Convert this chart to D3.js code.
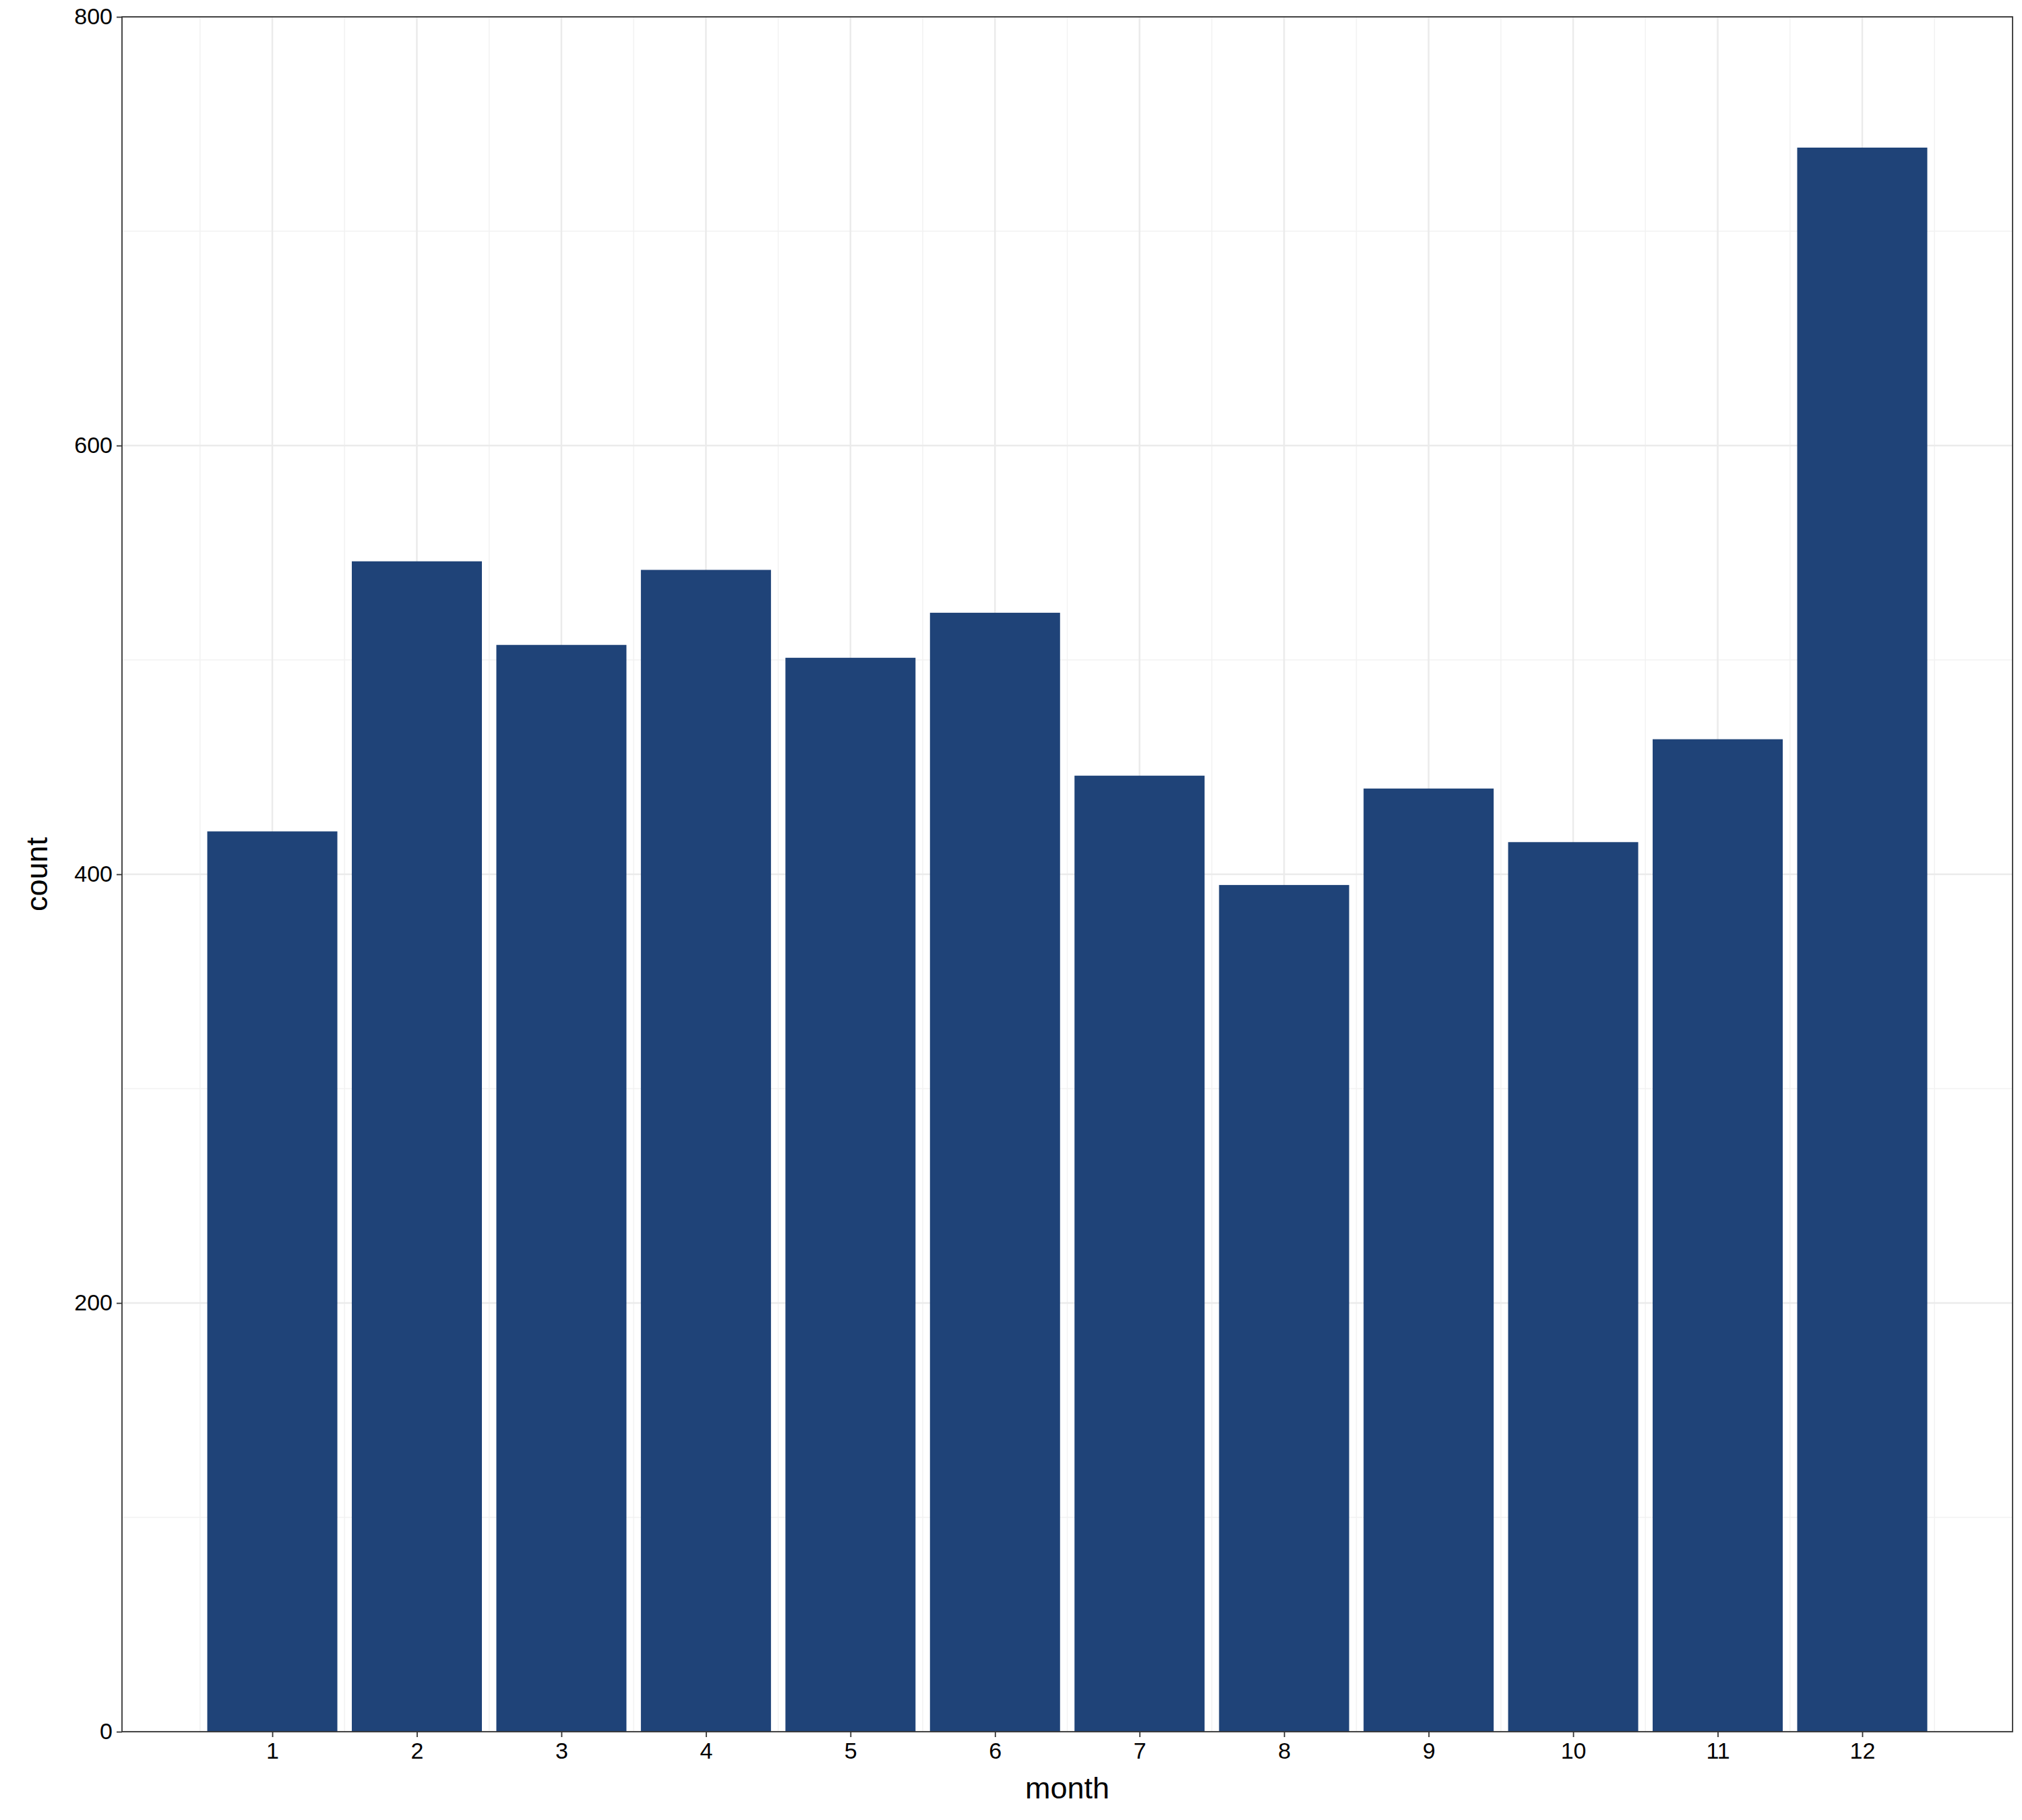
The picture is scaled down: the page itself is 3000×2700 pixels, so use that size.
<!DOCTYPE html>
<html>
<head>
<meta charset="utf-8">
<script src="https://cdn.jsdelivr.net/npm/d3@7"></script>
<style>
  body { margin: 0; background: #fff; }
  text { font-family: "Liberation Sans", Arial, sans-serif; }
</style>
</head>
<body>
<script>
const months = [1, 2, 3, 4, 5, 6, 7, 8, 9, 10, 11, 12];
const counts = [420, 546, 507, 542, 501, 522, 446, 395, 440, 415, 463, 739];
const yTicks = [0, 200, 400, 600, 800];
const yMinor = [100, 300, 500, 700];
const xMinor = [0.5, 1.5, 2.5, 3.5, 4.5, 5.5, 6.5, 7.5, 8.5, 9.5, 10.5, 11.5, 12.5];

const W = 3000, H = 2700;
const m = {left: 181, right: 14, top: 25, bottom: 131};

const svg = d3.select("body").append("svg").attr("width", W).attr("height", H);

const x = d3.scaleLinear().domain([-0.04, 13.04]).range([m.left, W - m.right]);
const y = d3.scaleLinear().domain([0, 800]).range([H - m.bottom, m.top]);

const g = svg.append("g");

// grid
g.selectAll(".ymin").data(yMinor).join("line")
  .attr("x1", x.range()[0]).attr("x2", x.range()[1])
  .attr("y1", d => y(d)).attr("y2", d => y(d))
  .attr("stroke", "#f2f2f2").attr("stroke-width", 1.5);
g.selectAll(".xmin").data(xMinor).join("line")
  .attr("x1", d => x(d)).attr("x2", d => x(d))
  .attr("y1", y.range()[0]).attr("y2", y.range()[1])
  .attr("stroke", "#f2f2f2").attr("stroke-width", 1.5);
g.selectAll(".ymaj").data(yTicks).join("line")
  .attr("x1", x.range()[0]).attr("x2", x.range()[1])
  .attr("y1", d => y(d)).attr("y2", d => y(d))
  .attr("stroke", "#ebebeb").attr("stroke-width", 2.5);
g.selectAll(".xmaj").data(months).join("line")
  .attr("x1", d => x(d)).attr("x2", d => x(d))
  .attr("y1", y.range()[0]).attr("y2", y.range()[1])
  .attr("stroke", "#ebebeb").attr("stroke-width", 2.5);

// bars
g.selectAll(".bar").data(months).join("rect")
  .attr("x", d => x(d - 0.45))
  .attr("width", x(0.9) - x(0))
  .attr("y", (d, i) => y(counts[i]))
  .attr("height", (d, i) => y(0) - y(counts[i]))
  .attr("fill", "#1f4378");

// panel border
svg.append("rect")
  .attr("x", m.left).attr("y", m.top)
  .attr("width", W - m.left - m.right).attr("height", H - m.top - m.bottom)
  .attr("fill", "none").attr("stroke", "#333").attr("stroke-width", 1.8);

// axes
const xa = svg.append("g").attr("transform", `translate(0,${H - m.bottom})`)
  .call(d3.axisBottom(x).tickValues(months).tickSize(8).tickPadding(8).tickFormat(d3.format("d")));
const ya = svg.append("g").attr("transform", `translate(${m.left},0)`)
  .call(d3.axisLeft(y).tickValues(yTicks).tickSize(8).tickPadding(6));
[xa, ya].forEach(a => {
  a.select(".domain").remove();
  a.selectAll(".tick line").attr("stroke", "#333").attr("stroke-width", 1.8);
  a.selectAll("text").attr("font-size", 34).attr("fill", "#000");
});

svg.append("text").attr("x", (m.left + W - m.right) / 2).attr("y", H - 32)
  .attr("text-anchor", "middle").attr("font-size", 45).text("month");
svg.append("text").attr("transform", `translate(70,${(m.top + H - m.bottom) / 2}) rotate(-90)`)
  .attr("text-anchor", "middle").attr("font-size", 45).text("count");
</script>
</body>
</html>
